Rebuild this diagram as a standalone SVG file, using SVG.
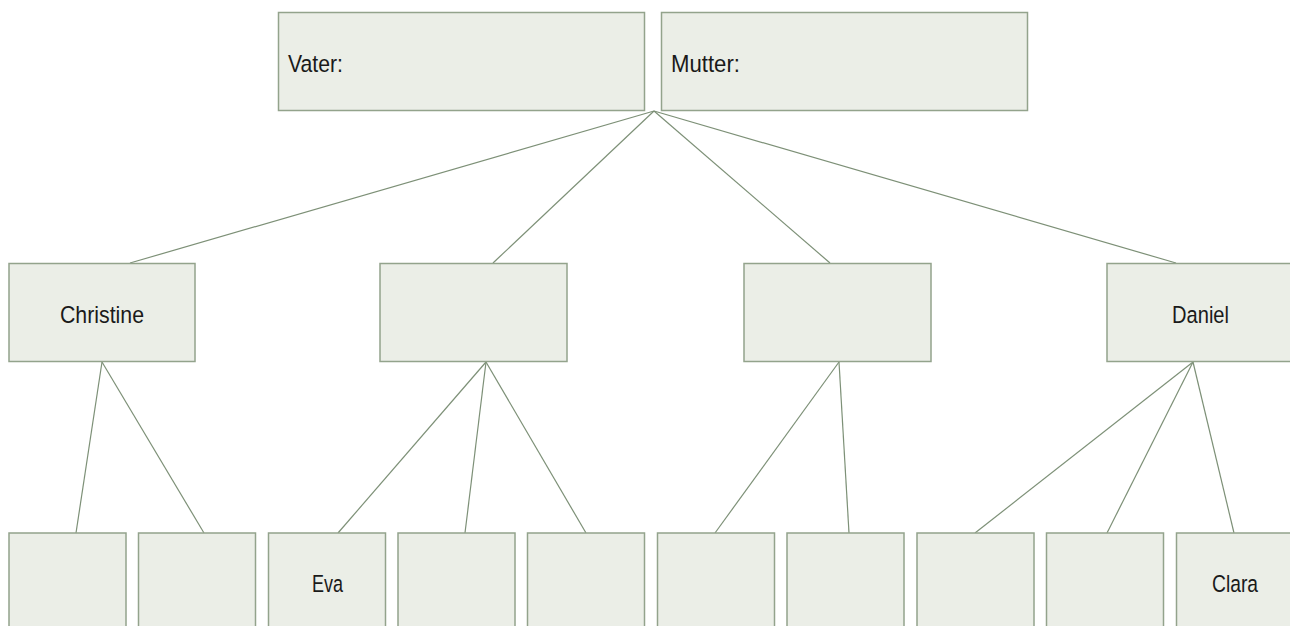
<svg xmlns="http://www.w3.org/2000/svg" width="1290" height="626" viewBox="0 0 1290 626">
<style>
.box{fill:#ebeee7;stroke:#93a38c;stroke-width:1.5}
.lbl{font-family:"Liberation Sans",Arial,sans-serif;font-size:24.5px;fill:#1a1a1a}
.con line{stroke:#7d9077;stroke-width:1.2}
</style>
<rect width="1290" height="626" fill="#ffffff"/>
<g class="con">
<line x1="654" y1="111" x2="130" y2="263"/>
<line x1="654" y1="111" x2="493" y2="263"/>
<line x1="654" y1="111" x2="830" y2="263"/>
<line x1="654" y1="111" x2="1176" y2="263"/>
<line x1="102" y1="362" x2="76" y2="533"/>
<line x1="102" y1="362" x2="204" y2="533"/>
<line x1="486" y1="362" x2="338" y2="533"/>
<line x1="486" y1="362" x2="465" y2="533"/>
<line x1="486" y1="362" x2="586" y2="533"/>
<line x1="839" y1="362" x2="715" y2="533"/>
<line x1="839" y1="362" x2="849" y2="533"/>
<line x1="1193" y1="362" x2="975" y2="533"/>
<line x1="1193" y1="362" x2="1107" y2="533"/>
<line x1="1193" y1="362" x2="1234" y2="533"/>
</g>
<g id="vater"><rect class="box" x="278.5" y="12.5" width="366" height="98"/><text class="lbl" x="288" y="72" textLength="55" lengthAdjust="spacingAndGlyphs">Vater:</text></g>
<g id="mutter"><rect class="box" x="661.5" y="12.5" width="366" height="98"/><text class="lbl" x="671" y="72" textLength="69" lengthAdjust="spacingAndGlyphs">Mutter:</text></g>
<g id="christine"><rect class="box" x="9" y="263.5" width="186" height="98"/><text class="lbl" x="60" y="323" textLength="84" lengthAdjust="spacingAndGlyphs">Christine</text></g>
<g id="kind2"><rect class="box" x="380" y="263.5" width="187" height="98"/></g>
<g id="kind3"><rect class="box" x="744" y="263.5" width="187" height="98"/></g>
<g id="daniel"><rect class="box" x="1107" y="263.5" width="187" height="98"/><text class="lbl" x="1172" y="323" textLength="57" lengthAdjust="spacingAndGlyphs">Daniel</text></g>
<g id="e1"><rect class="box" x="9" y="533" width="117" height="100"/></g>
<g id="e2"><rect class="box" x="138.5" y="533" width="117" height="100"/></g>
<g id="eva"><rect class="box" x="268.5" y="533" width="117" height="100"/><text class="lbl" x="312" y="592" textLength="31" lengthAdjust="spacingAndGlyphs">Eva</text></g>
<g id="e4"><rect class="box" x="398" y="533" width="117" height="100"/></g>
<g id="e5"><rect class="box" x="527.5" y="533" width="117" height="100"/></g>
<g id="e6"><rect class="box" x="657.5" y="533" width="117" height="100"/></g>
<g id="e7"><rect class="box" x="787" y="533" width="117" height="100"/></g>
<g id="e8"><rect class="box" x="917" y="533" width="117" height="100"/></g>
<g id="e9"><rect class="box" x="1046.5" y="533" width="117" height="100"/></g>
<g id="clara"><rect class="box" x="1176.5" y="533" width="117" height="100"/><text class="lbl" x="1212" y="592" textLength="46" lengthAdjust="spacingAndGlyphs">Clara</text></g>
</svg>
